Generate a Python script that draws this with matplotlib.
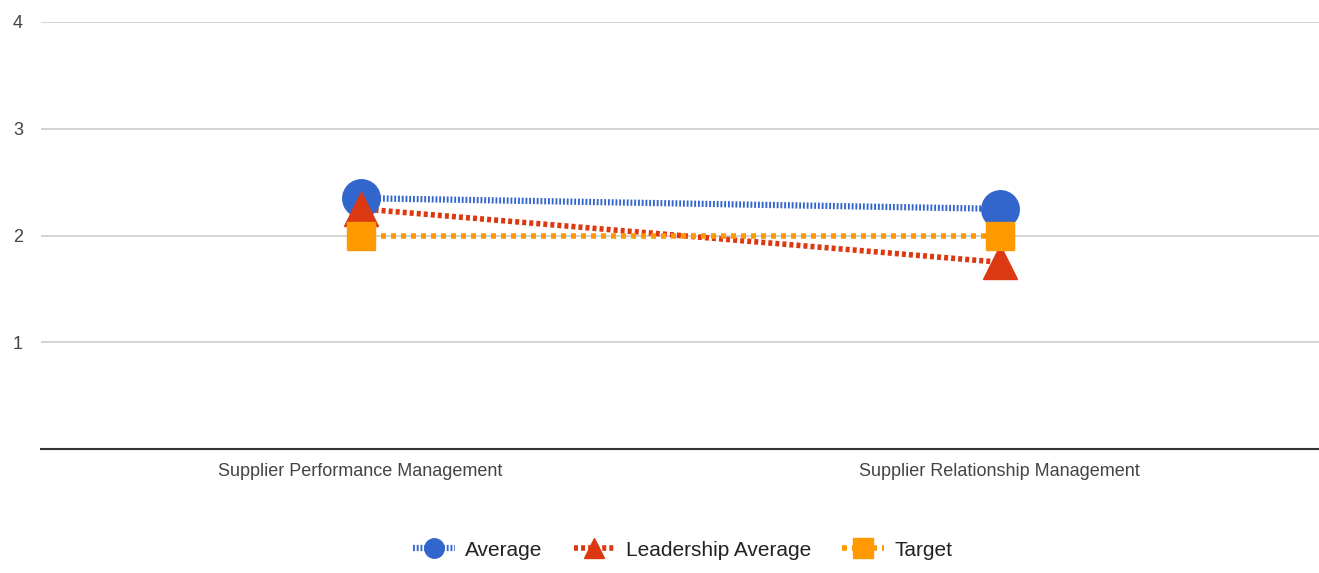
import matplotlib.pyplot as plt
from matplotlib.lines import Line2D

categories = ["Supplier Performance Management", "Supplier Relationship Management"]
average = [2.35, 2.25]
leadership_average = [2.25, 1.75]
target = [2.0, 2.0]

plt.rcParams['font.family'] = ['Liberation Sans', 'DejaVu Sans']

fig = plt.figure(figsize=(13.19, 5.73), dpi=100)
ax = fig.add_axes([41 / 1319, 1 - 449 / 573, 1 - 41 / 1319, (449 - 22) / 573])

x = list(range(len(categories)))
series = [
    ("Average", average, "#3366cc", "o", 27, (0, (0.3, 0.3)), 4.5),
    ("Leadership Average", leadership_average, "#dc3912", "^", 24, (0, (0.72, 0.55)), 4),
    ("Target", target, "#ff9900", "s", 20, (0, (0.9, 0.9)), 4),
]
handles = []
for name, vals, color, marker, ms, ls, lw in series:
    ax.plot(x, vals, color=color, linestyle=ls, linewidth=lw, zorder=3)
    ax.plot(x, vals, color=color, linestyle="none", marker=marker,
            markersize=ms, zorder=4)
    handles.append(Line2D([0], [0], color=color, linestyle=ls, linewidth=lw,
                          marker=marker, markersize=14, label=name))

ax.set_xlim(-0.5, 1.5)
ax.set_ylim(0, 4)
ax.set_yticks([1, 2, 3, 4])
ax.set_xticks(x)
ax.set_xticklabels(categories)
ax.grid(axis="y", color="#cccccc", linewidth=1.2)
ax.set_axisbelow(True)
for side in ["top", "right", "left"]:
    ax.spines[side].set_visible(False)
ax.spines["bottom"].set_color("#333333")
ax.spines["bottom"].set_linewidth(1.5)
ax.tick_params(axis="both", length=0, labelsize=13, colors="#444444")
ax.tick_params(axis="y", pad=13)
ax.tick_params(axis="x", pad=10)

fig.legend(handles=handles, loc="center", bbox_to_anchor=(0.5175, 1 - 550 / 573),
           ncol=3, frameon=False, fontsize=15, handlelength=2.0,
           columnspacing=1.5, handletextpad=0.5, labelcolor="#222222")

fig.savefig("out.png", dpi=100)
